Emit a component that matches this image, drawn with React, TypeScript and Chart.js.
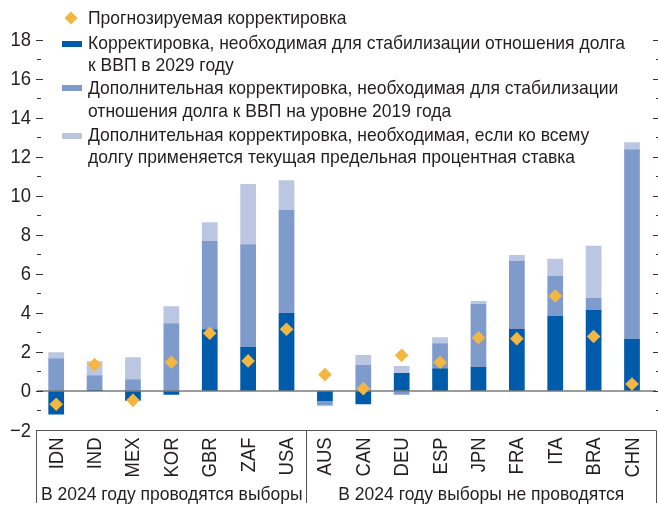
import React, { useEffect, useRef } from "react";
import { Chart, registerables } from "chart.js";

Chart.register(...registerables);

const categories = ["IDN", "IND", "MEX", "KOR", "GBR", "ZAF", "USA", "AUS", "CAN", "DEU", "ESP", "JPN", "FRA", "ITA", "BRA", "CHN"];
const stabilize2029 = [-1.2, 0.05, -0.5, -0.2, 3.16, 2.26, 4.0, -0.52, -0.68, 0.92, 1.17, 1.23, 3.18, 3.85, 4.16, 2.67];
const additional2019 = [1.68, 0.75, 0.6, 3.47, 4.52, 5.26, 5.27, -0.2, 1.33, -0.2, 1.28, 3.23, 3.49, 2.05, 0.61, 9.71];
const additionalMarginal = [0.3, 0.72, 1.13, 0.87, 0.97, 3.08, 1.53, -0.06, 0.51, 0.36, 0.3, 0.15, 0.3, 0.87, 2.67, 0.36];
const projected = [-0.68, 1.35, -0.48, 1.47, 2.96, 1.54, 3.16, 0.84, 0.12, 1.83, 1.47, 2.73, 2.68, 4.87, 2.79, 0.36];

const yTickValues = [18, 16, 14, 12, 10, 8, 6, 4, 2, 0, -2];
const yTickLabels = ["18", "16", "14", "12", "10", "8", "6", "4", "2", "0", "\u22122"];
const yMin = -2;
const yMax = 18;

const groupLabels = ["В 2024 году проводятся выборы", "В 2024 году выборы не проводятся"];
const groupSizes = [7, 9];

const legendProjected = ["Прогнозируемая корректировка"];
const legendStabilize = ["Корректировка, необходимая для стабилизации отношения долга", "к ВВП в 2029 году"];
const legendAdditional = ["Дополнительная корректировка, необходимая для стабилизации", "отношения долга к ВВП на уровне 2019 года"];
const legendMarginal = ["Дополнительная корректировка, необходимая, если ко всему", "долгу применяется текущая предельная процентная ставка"];

const DARK = "#005BAA";
const MID = "#7F9BCB";
const LIGHT = "#BAC6E2";
const GOLD = "#F3B641";
const TEXT = "#231F20";
const FONT = "'Liberation Sans', Arial, sans-serif";

function drawText(ctx: CanvasRenderingContext2D, text: string, x: number, y: number, sx: number, align: CanvasTextAlign, rot = 0) {
  ctx.save();
  ctx.translate(x, y);
  if (rot) ctx.rotate(rot);
  ctx.scale(sx, 1);
  ctx.textAlign = align;
  ctx.textBaseline = "middle";
  ctx.fillText(text, 0, 0);
  ctx.restore();
}

const decorPlugin = {
  id: "decor",
  beforeDatasetDraw(chart: any, args: any) {
    if (args.index !== 0) return;
    const ctx = chart.ctx as CanvasRenderingContext2D;
    const y = chart.scales.y;
    const frameRight = 656;
    const left = chart.chartArea.left;
    ctx.save();
    ctx.strokeStyle = "#7a7a7a";
    ctx.lineWidth = 1.5;
    ctx.beginPath();
    const y0 = y.getPixelForValue(0);
    ctx.moveTo(left, y0);
    ctx.lineTo(frameRight, y0);
    ctx.stroke();
    ctx.restore();
  },
  afterDraw(chart: any) {
    const ctx = chart.ctx as CanvasRenderingContext2D;
    const x = chart.scales.x;
    const y = chart.scales.y;
    const area = chart.chartArea;
    const frameRight = 656;
    const left = area.left;
    ctx.save();
    ctx.font = `19px ${FONT}`;
    const sx = 537 / ctx.measureText(legendStabilize[0]).width;

    // y ticks
    ctx.strokeStyle = "#333";
    ctx.lineWidth = 1;
    for (let v = yMin + 1; v <= yMax; v++) {
      const py = Math.round(y.getPixelForValue(v)) + 0.5;
      const major = v % 2 === 0;
      ctx.beginPath();
      ctx.moveTo(left - (major ? 1 : 0), py);
      ctx.lineTo(left + (major ? 6 : 4), py);
      ctx.moveTo(frameRight - (major ? 3 : 0), py);
      ctx.lineTo(frameRight + 2, py);
      ctx.stroke();
    }
    ctx.fillStyle = TEXT;
    ctx.font = `20px ${FONT}`;
    yTickValues.forEach((v, i) => {
      drawText(ctx, yTickLabels[i], 31, y.getPixelForValue(v) + 1, sx, "right");
    });

    // frame
    const yb = Math.round(area.bottom) + 0.5;
    ctx.strokeStyle = "#555";
    ctx.lineWidth = 1;
    ctx.beginPath();
    ctx.moveTo(left - 1, yb);
    ctx.lineTo(frameRight, yb);
    const sepIdx = groupSizes[0];
    const sepX = Math.round((x.getPixelForValue(sepIdx - 1) + x.getPixelForValue(sepIdx)) / 2) + 0.5;
    [Math.round(left - 1) + 0.5, sepX, frameRight + 0.5].forEach((vx) => {
      ctx.moveTo(vx, yb);
      ctx.lineTo(vx, 503);
    });
    ctx.stroke();

    // category labels
    ctx.font = `20px ${FONT}`;
    categories.forEach((c, i) => {
      drawText(ctx, c, x.getPixelForValue(i) + 1, yb + 7, sx, "right", -Math.PI / 2);
    });

    // group labels
    ctx.font = `19px ${FONT}`;
    groupSizes.forEach((n, g) => {
      const x0 = g === 0 ? left : sepX;
      const x1 = g === groupSizes.length - 1 ? frameRight : sepX;
      drawText(ctx, groupLabels[g], (x0 + x1) / 2, 495, sx, "center");
    });

    // legend
    ctx.fillStyle = GOLD;
    ctx.beginPath();
    const dx = 71, dy = 18, r = 6.5;
    ctx.moveTo(dx, dy - r);
    ctx.lineTo(dx + r, dy);
    ctx.lineTo(dx, dy + r);
    ctx.lineTo(dx - r, dy);
    ctx.closePath();
    ctx.fill();
    ctx.fillStyle = DARK;
    ctx.fillRect(62, 41, 20, 6);
    ctx.fillStyle = MID;
    ctx.fillRect(62, 85, 20, 6);
    ctx.fillStyle = LIGHT;
    ctx.fillRect(62, 133, 20, 6);

    ctx.fillStyle = TEXT;
    ctx.font = `19px ${FONT}`;
    const lines: [string, number][] = [
      [legendProjected[0], 18.5],
      [legendStabilize[0], 43.5],
      [legendStabilize[1], 65.5],
      [legendAdditional[0], 88.5],
      [legendAdditional[1], 112],
      [legendMarginal[0], 136],
      [legendMarginal[1], 158],
    ];
    lines.forEach(([t, ly]) => drawText(ctx, t, 88, ly, sx, "left"));
    ctx.restore();
  },
};

export default function App() {
  const ref = useRef<HTMLCanvasElement | null>(null);
  useEffect(() => {
    if (!ref.current) return;
    const chart = new Chart(ref.current, {
      type: "bar",
      data: {
        labels: categories,
        datasets: [
          {
            type: "line",
            label: legendProjected[0],
            data: projected,
            yAxisID: "y2",
            showLine: false,
            pointStyle: "rectRot",
            pointRadius: 6.8,
            pointHoverRadius: 6.8,
            pointBackgroundColor: GOLD,
            pointBorderWidth: 0,
            borderColor: GOLD,
            backgroundColor: GOLD,
            order: -1,
          } as any,
          {
            label: legendStabilize.join(" "),
            data: stabilize2029,
            backgroundColor: DARK,
            barPercentage: 0.41,
            categoryPercentage: 1,
            yAxisID: "y",
          },
          {
            label: legendAdditional.join(" "),
            data: additional2019,
            backgroundColor: MID,
            barPercentage: 0.41,
            categoryPercentage: 1,
            yAxisID: "y",
          },
          {
            label: legendMarginal.join(" "),
            data: additionalMarginal,
            backgroundColor: LIGHT,
            barPercentage: 0.41,
            categoryPercentage: 1,
            yAxisID: "y",
          },
        ],
      },
      options: {
        responsive: false,
        animation: false,
        devicePixelRatio: 1,
        layout: { padding: { left: 37, right: -5, top: 39.7, bottom: 80 } },
        plugins: { legend: { display: false }, tooltip: { enabled: false } },
        scales: {
          x: { display: false, stacked: true, offset: true, grid: { offset: true } },
          y: { display: false, stacked: true, min: yMin, max: yMax },
          y2: { display: false, stacked: false, min: yMin, max: yMax },
        },
      },
      plugins: [decorPlugin],
    });
    return () => chart.destroy();
  }, []);
  return (
    <div style={{ position: "absolute", left: 0, top: 0, width: 658, height: 510, background: "#fff" }}>
      <canvas ref={ref} width={658} height={510} style={{ width: 658, height: 510, display: "block" }} />
    </div>
  );
}
